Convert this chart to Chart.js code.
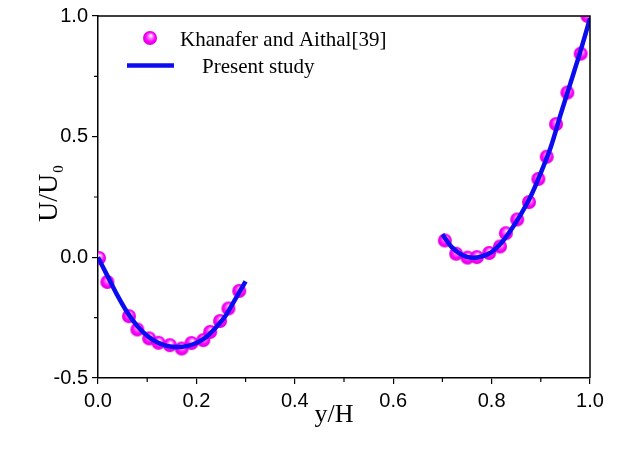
<!DOCTYPE html>
<html>
<head>
<meta charset="utf-8">
<script src="https://cdn.jsdelivr.net/npm/chart.js@4.4.0/dist/chart.umd.min.js"></script>
<style>
  body { margin: 0; background: #fff; }
  canvas { display: block; }
</style>
</head>
<body>
<canvas id="chart" width="640" height="450"></canvas>
<script>
// reference points (Khanafer and Aithal[39])
const refX1 = [0.002, 0.019, 0.063, 0.080, 0.104, 0.123, 0.146, 0.170, 0.190, 0.214, 0.228, 0.248, 0.265, 0.287];
const refY1 = [-0.003, -0.102, -0.244, -0.299, -0.336, -0.354, -0.364, -0.378, -0.355, -0.343, -0.309, -0.264, -0.212, -0.139];
const refX2 = [0.705, 0.728, 0.751, 0.770, 0.795, 0.817, 0.829, 0.852, 0.876, 0.895, 0.912, 0.931, 0.954, 0.981, 0.995];
const refY2 = [0.070, 0.015, -0.001, 0.001, 0.018, 0.045, 0.100, 0.157, 0.229, 0.325, 0.417, 0.552, 0.683, 0.844, 1.0];

// present study curve, two pieces
const lineX1 = [0, 0.02, 0.04, 0.06, 0.08, 0.10, 0.12, 0.14, 0.16, 0.18, 0.20, 0.22, 0.24, 0.26, 0.28, 0.30];
const lineY1 = [0, -0.08, -0.16, -0.23, -0.285, -0.325, -0.352, -0.367, -0.372, -0.368, -0.355, -0.33, -0.29, -0.24, -0.17, -0.10];
const lineX2 = [0.70, 0.72, 0.74, 0.76, 0.78, 0.80, 0.82, 0.84, 0.86, 0.88, 0.90, 0.92, 0.94, 0.96, 0.98, 1.00];
const lineY2 = [0.095, 0.04, 0.01, -0.002, 0.004, 0.022, 0.06, 0.115, 0.18, 0.255, 0.35, 0.455, 0.59, 0.72, 0.85, 0.99];

const xMinor = [0.1, 0.3, 0.5, 0.7, 0.9];
const yMinor = [-0.25, 0.25, 0.75];

const legendRef = "Khanafer and Aithal[39]";
const legendLine = "Present study";

const blue = "#0c0cf0";

function pts(xs, ys) {
  return xs.map((x, i) => ({ x: x, y: ys[i] }));
}

// shiny magenta ball used as point style
function makeBall(r) {
  const c = document.createElement("canvas");
  c.width = c.height = r * 2 + 2;
  const g = c.getContext("2d");
  const cx = r + 1, cy = r + 1;
  const grad = g.createRadialGradient(cx + 1, cy - 2.5, 0.5, cx, cy, r);
  grad.addColorStop(0, "#fff2ff");
  grad.addColorStop(0.3, "#ff70ff");
  grad.addColorStop(0.65, "#ff00ff");
  grad.addColorStop(1, "#d600d6");
  g.fillStyle = grad;
  g.beginPath();
  g.arc(cx, cy, r, 0, Math.PI * 2);
  g.fill();
  return c;
}
const ball = makeBall(7);

// frame, minor ticks, legend and axis titles
const extras = {
  id: "extras",
  afterDraw(chart) {
    const ctx = chart.ctx;
    const a = chart.chartArea;
    const xs = chart.scales.x, ys = chart.scales.y;
    ctx.save();
    ctx.strokeStyle = "#000";
    ctx.lineWidth = 1.5;
    ctx.beginPath();
    ctx.moveTo(a.left, a.top);
    ctx.lineTo(a.right, a.top);
    ctx.lineTo(a.right, a.bottom);
    ctx.stroke();

    ctx.lineWidth = 1.2;
    ctx.beginPath();
    xMinor.forEach(v => {
      const px = xs.getPixelForValue(v);
      ctx.moveTo(px, a.bottom);
      ctx.lineTo(px, a.bottom + 4);
    });
    yMinor.forEach(v => {
      const py = ys.getPixelForValue(v);
      ctx.moveTo(a.left, py);
      ctx.lineTo(a.left - 4, py);
    });
    ctx.stroke();

    // legend
    ctx.drawImage(ball, 150 - ball.width / 2, 38 - ball.height / 2);
    ctx.strokeStyle = blue;
    ctx.lineWidth = 4.5;
    ctx.beginPath();
    ctx.moveTo(127, 65.5);
    ctx.lineTo(174, 65.5);
    ctx.stroke();
    ctx.fillStyle = "#000";
    ctx.font = '21px "Liberation Serif"';
    ctx.textBaseline = "alphabetic";
    ctx.fillText(legendRef, 180, 46);
    ctx.fillText(legendLine, 202, 73);

    // x title
    ctx.font = '26px "Liberation Serif"';
    ctx.textAlign = "center";
    ctx.fillText("y/H", 334, 422);

    // y title with subscript
    ctx.translate(57, 222);
    ctx.rotate(-Math.PI / 2);
    ctx.textAlign = "left";
    ctx.font = '28px "Liberation Serif"';
    ctx.fillText("U/U", 0, 0);
    const w = ctx.measureText("U/U").width;
    ctx.font = '15px "Liberation Serif"';
    ctx.fillText("0", w + 1, 6);
    ctx.restore();
  }
};

new Chart(document.getElementById("chart"), {
  type: "scatter",
  data: {
    datasets: [
      {
        type: "line",
        data: pts(lineX1, lineY1),
        borderColor: blue,
        borderWidth: 4.5,
        pointRadius: 0,
        tension: 0.3,
        fill: false,
        order: 0,
        clip: 0
      },
      {
        type: "line",
        data: pts(lineX2, lineY2),
        borderColor: blue,
        borderWidth: 4.5,
        pointRadius: 0,
        tension: 0.3,
        fill: false,
        order: 0,
        clip: 0
      },
      {
        data: pts(refX1, refY1).concat(pts(refX2, refY2)),
        pointStyle: ball,
        pointRadius: 7,
        showLine: false,
        order: 1,
        clip: 0
      }
    ]
  },
  options: {
    responsive: false,
    animation: false,
    layout: { padding: { top: 15, right: 50, left: 0, bottom: 0 } },
    plugins: { legend: { display: false }, tooltip: { enabled: false } },
    scales: {
      x: {
        type: "linear",
        min: 0,
        max: 1,
        afterFit(s) { s.height = 72; },
        ticks: {
          stepSize: 0.2,
          color: "#000",
          padding: 5,
          font: { family: '"Liberation Sans"', size: 20 },
          callback: v => v.toFixed(1)
        },
        grid: { drawOnChartArea: false, color: "#000", tickLength: 6, lineWidth: 1.2 },
        border: { display: true, color: "#000", width: 1.5 }
      },
      y: {
        type: "linear",
        min: -0.5,
        max: 1,
        afterFit(s) { s.width = 98; },
        ticks: {
          stepSize: 0.5,
          color: "#000",
          padding: 4,
          font: { family: '"Liberation Sans"', size: 20 },
          callback: v => v.toFixed(1)
        },
        grid: { drawOnChartArea: false, color: "#000", tickLength: 6, lineWidth: 1.2 },
        border: { display: true, color: "#000", width: 1.5 }
      }
    }
  },
  plugins: [extras]
});
</script>
</body>
</html>
